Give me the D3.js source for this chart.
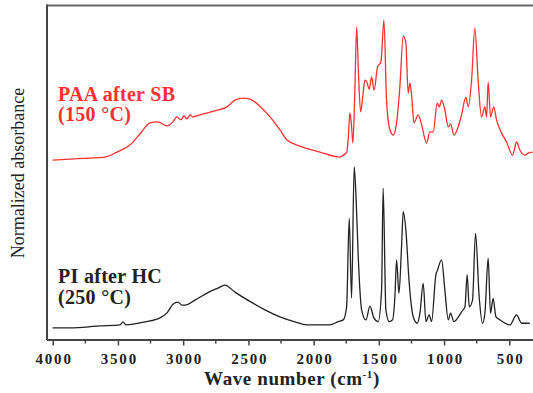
<!DOCTYPE html>
<html>
<head>
<meta charset="utf-8">
<script src="https://cdn.jsdelivr.net/npm/d3@7"></script>
<style>
  body { margin: 0; background: #fff; }
</style>
</head>
<body>
<div id="chart"></div>
<script>
// wavenumbers (cm-1) and normalized absorbance
const paaWave = [4000, 3867, 3714, 3599, 3507, 3408, 3331, 3254, 3193, 3124, 3078, 3048, 3017, 2994, 2971, 2948, 2925, 2871, 2756, 2664, 2603, 2541, 2488, 2412, 2334, 2258, 2204, 2105, 1952, 1798,
  1760, 1745, 1733, 1722, 1710, 1699, 1684, 1670, 1657, 1640, 1622, 1607, 1592, 1574, 1556, 1536, 1510, 1484, 1461, 1441, 1415, 1390, 1364, 1339, 1313, 1293, 1275, 1262, 1249, 1231, 1198, 1172,
  1134, 1109, 1083, 1053, 1037, 1019, 994, 968, 950, 925, 892, 866, 833, 815, 789, 764, 739, 713, 687, 674, 662, 644, 619, 598, 559, 521, 475, 444, 419, 381, 355, 322];
const paaAbs = [0.540, 0.543, 0.546, 0.549, 0.564, 0.585, 0.618, 0.651, 0.654, 0.642, 0.654, 0.669, 0.660, 0.672, 0.663, 0.675, 0.669, 0.675, 0.687, 0.699, 0.719, 0.725, 0.722, 0.701, 0.669, 0.630, 0.600, 0.582, 0.564, 0.549,
  0.558, 0.564, 0.615, 0.681, 0.645, 0.591, 0.746, 0.937, 0.809, 0.684, 0.734, 0.779, 0.773, 0.752, 0.788, 0.749, 0.818, 0.833, 0.958, 0.719, 0.630, 0.615, 0.651, 0.758, 0.910, 0.890, 0.740, 0.770, 0.734, 0.651, 0.675, 0.645,
  0.591, 0.624, 0.624, 0.710, 0.699, 0.719, 0.690, 0.639, 0.648, 0.615, 0.639, 0.675, 0.728, 0.699, 0.779, 0.934, 0.779, 0.669, 0.699, 0.669, 0.773, 0.669, 0.699, 0.660, 0.621, 0.594, 0.555, 0.594, 0.570, 0.555, 0.561, 0.564];

const piWave = [4000, 3867, 3637, 3484, 3461, 3438, 3293, 3178, 3124, 3078, 3040, 3009, 2986, 2909, 2817, 2733, 2680, 2603, 2465, 2373, 2258, 2143, 2051, 1952, 1875, 1811, 1773,
  1747, 1727, 1709, 1689, 1674, 1658, 1632, 1599, 1568, 1538, 1505, 1479, 1467, 1446, 1421, 1395, 1377, 1364, 1346, 1326, 1313, 1293, 1267, 1237, 1206, 1185, 1160, 1139, 1114, 1096,
  1063, 1050, 1019, 994, 968, 950, 925, 866, 840, 823, 807, 782, 759, 731, 705, 687, 662, 644, 624, 603, 572, 496, 444, 406, 343];
const piAbs = [0.039, 0.039, 0.045, 0.048, 0.057, 0.048, 0.057, 0.069, 0.084, 0.110, 0.116, 0.107, 0.107, 0.122, 0.143, 0.158, 0.167, 0.146, 0.113, 0.093, 0.072, 0.057, 0.048, 0.048, 0.048, 0.058, 0.063,
  0.102, 0.366, 0.128, 0.520, 0.421, 0.252, 0.093, 0.063, 0.104, 0.069, 0.058, 0.152, 0.456, 0.093, 0.058, 0.063, 0.132, 0.242, 0.142, 0.281, 0.386, 0.331, 0.172, 0.073, 0.053, 0.083, 0.172, 0.058, 0.078, 0.058,
  0.197, 0.212, 0.242, 0.152, 0.063, 0.083, 0.058, 0.087, 0.102, 0.197, 0.102, 0.122, 0.321, 0.132, 0.053, 0.083, 0.247, 0.083, 0.127, 0.073, 0.063, 0.048, 0.078, 0.053, 0.053];

const majorTicks = [4000, 3500, 3000, 2500, 2000, 1500, 1000, 500];
const minorTicks = [3750, 3250, 2750, 2250, 1750, 1250, 750];

const width = 533, height = 393;
const serif = '"Liberation Serif", "Times New Roman", Times, serif';

const svg = d3.select('#chart')
  .append('svg')
  .attr('width', width)
  .attr('height', height)
  .style('font-family', serif);

const x = d3.scaleLinear().domain([4000, 500]).range([52.7, 509.3]);
const y = d3.scaleLinear().domain([0, 1]).range([341, 6]);

const frameLeft = 47, frameTop = 5.5, axisY = 340;

// spectra
const line = d3.line()
  .x(d => x(d[0]))
  .y(d => y(d[1]))
  .curve(d3.curveMonotoneX);

svg.append('path')
  .datum(d3.zip(paaWave, paaAbs))
  .attr('d', line)
  .attr('fill', 'none')
  .attr('stroke', '#ff3030')
  .attr('stroke-width', 1.3);

svg.append('path')
  .datum(d3.zip(piWave, piAbs))
  .attr('d', line)
  .attr('fill', 'none')
  .attr('stroke', '#222')
  .attr('stroke-width', 1.3);

// frame (left and top; right side is cut off)
svg.append('line')
  .attr('x1', frameLeft).attr('x2', width)
  .attr('y1', frameTop).attr('y2', frameTop)
  .attr('stroke', '#666').attr('stroke-width', 2);
svg.append('line')
  .attr('x1', frameLeft).attr('x2', frameLeft)
  .attr('y1', frameTop - 1).attr('y2', axisY)
  .attr('stroke', '#444').attr('stroke-width', 2);

// x axis
const xAxis = svg.append('g')
  .attr('transform', `translate(0,${axisY})`);

xAxis.append('line')
  .attr('x1', frameLeft).attr('x2', width)
  .attr('stroke', '#444').attr('stroke-width', 2);

xAxis.call(d3.axisBottom(x).tickValues(majorTicks).tickFormat(d3.format('d'))
    .tickSize(5.5).tickSizeOuter(0).tickPadding(7.5))
  .attr('font-family', serif)
  .call(g => g.select('.domain').remove())
  .call(g => g.selectAll('.tick line').attr('stroke', '#444').attr('stroke-width', 1.5))
  .call(g => g.selectAll('.tick text')
    .attr('fill', '#222')
    .attr('dx', '0.9px')
    .style('font-family', serif)
    .style('font-size', '15px')
    .style('font-weight', 'bold')
    .style('letter-spacing', '1.8px'));

xAxis.selectAll('.minor')
  .data(minorTicks)
  .join('line')
  .attr('class', 'minor')
  .attr('x1', d => x(d)).attr('x2', d => x(d))
  .attr('y1', 0).attr('y2', 3.5)
  .attr('stroke', '#444').attr('stroke-width', 1.5);

// axis titles
const xTitle = svg.append('text')
  .attr('x', 292)
  .attr('y', 385)
  .attr('text-anchor', 'middle')
  .attr('fill', '#222')
  .style('font-family', serif)
  .style('font-size', '19px')
  .style('font-weight', 'bold')
  .style('letter-spacing', '0.6px');
xTitle.append('tspan').text('Wave number (cm');
xTitle.append('tspan').attr('dy', -7).style('font-size', '11px').text('-1');
xTitle.append('tspan').attr('dy', 7).text(')');

svg.append('text')
  .attr('transform', 'translate(24,173) rotate(-90)')
  .attr('text-anchor', 'middle')
  .attr('fill', '#222')
  .style('font-family', serif)
  .style('font-size', '18px')
  .text('Normalized absorbance');

// sample labels
const labels = [
  { lines: ['PAA after SB', '(150 °C)'], color: '#ff3030', y: 100.5 },
  { lines: ['PI after HC', '(250 °C)'], color: '#222', y: 283 }
];

labels.forEach(l => {
  l.lines.forEach((t, i) => {
    svg.append('text')
      .attr('x', 58)
      .attr('y', l.y + i * 20.5)
      .attr('fill', l.color)
      .style('font-family', serif)
      .style('font-size', '20px')
      .style('font-weight', 'bold')
      .style('letter-spacing', '0.3px')
      .text(t);
  });
});
</script>
</body>
</html>
